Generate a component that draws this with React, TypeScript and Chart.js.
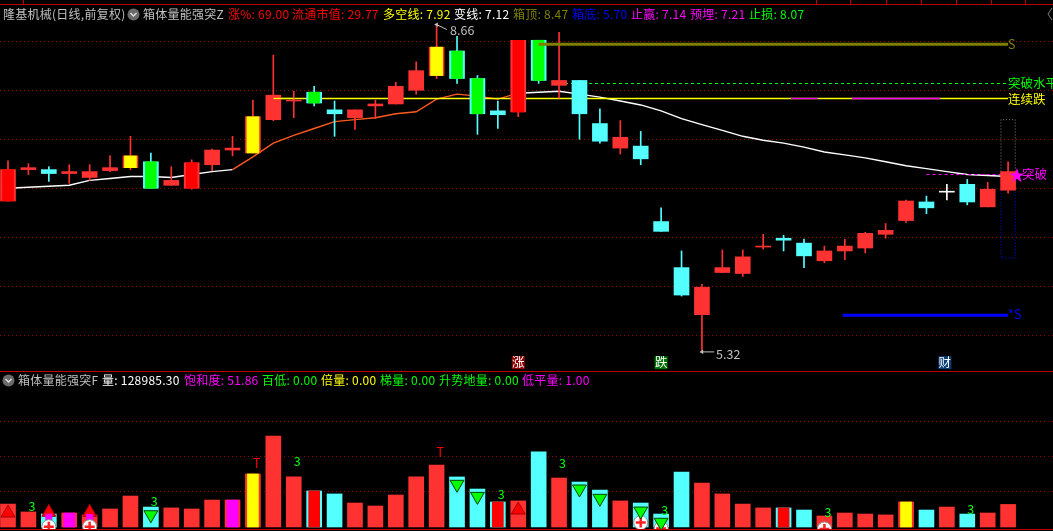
import { useEffect, useRef } from "react";
import Chart from "chart.js/auto";

// daily candles
const opens = [6.86,7.18,7.18,7.14,7.10,7.17,7.20,7.26,7.02,6.99,7.23,7.38,7.35,7.69,7.88,7.97,7.79,7.71,7.83,7.85,7.99,8.14,8.39,8.11,7.78,7.77,8.50,8.04,8.09,7.65,7.40,7.42,6.65,6.18,5.70,6.13,6.12,6.39,6.48,6.43,6.25,6.35,6.38,6.52,6.66,6.85,6.96,7.03,6.80,6.97];
const highs = [7.27,7.24,7.21,7.23,7.23,7.32,7.52,7.35,7.21,7.28,7.39,7.52,7.89,8.35,7.98,8.03,7.88,7.79,7.89,8.07,8.28,8.66,8.54,8.14,7.88,8.50,8.50,8.58,8.09,7.80,7.68,7.57,6.79,6.35,6.01,6.36,6.36,6.52,6.51,6.47,6.40,6.47,6.54,6.63,6.87,6.91,7.03,7.08,7.05,7.26];
const lows = [6.86,7.13,7.06,7.04,7.07,7.16,7.18,6.99,7.02,6.98,7.17,7.32,7.35,7.68,7.71,7.83,7.52,7.59,7.70,7.85,7.95,8.11,8.06,7.54,7.60,7.72,8.06,7.91,7.49,7.45,7.34,7.23,6.55,5.89,5.32,6.13,6.09,6.37,6.35,6.18,6.23,6.26,6.33,6.48,6.64,6.73,6.87,6.82,6.80,6.94];
const closes = [7.18,7.20,7.14,7.16,7.16,7.20,7.32,6.99,7.07,7.25,7.38,7.40,7.72,7.94,7.89,7.86,7.75,7.79,7.85,8.03,8.19,8.43,8.11,7.75,7.74,8.50,8.09,8.09,7.75,7.47,7.51,7.29,6.55,5.90,5.98,6.18,6.29,6.40,6.46,6.30,6.35,6.40,6.53,6.56,6.86,6.79,6.95,6.85,6.98,7.16];
const volumes = [131000,86000,74000,80000,69000,103000,177000,114000,109000,103000,154000,154000,303000,520000,286000,206000,189000,137000,120000,183000,286000,354000,286000,217000,143000,149000,429000,280000,257000,211000,149000,137000,74000,314000,251000,189000,131000,109000,109000,97000,63000,80000,74000,69000,143000,97000,114000,74000,80000,128985];
const maLine = [6.99,7.00,7.01,7.02,7.07,7.09,7.11,7.11,7.10,7.13,7.16,7.18,7.31,7.45,7.53,7.60,7.67,7.69,7.71,7.75,7.77,7.90,7.95,7.93,7.90,7.96,7.97,7.98,7.95,7.92,7.88,7.84,7.78,7.70,7.64,7.58,7.52,7.48,7.45,7.41,7.36,7.33,7.30,7.26,7.22,7.19,7.16,7.13,7.12,7.11];

// which candles get a coloured core
const yellowCore = [6, 12, 21];
const greenCore = [7, 15, 22, 23, 26];
const redCore = [0, 9, 25];
const whiteCandle = 46;
const orangeFrom = 11;
const orangeTo = 25;

const volMagentaCore = [3, 11];
const volYellowCore = [12, 44];
const volRedCore = [15, 24, 38];

// levels
const priceTicks = [8.49, 7.99, 7.49, 6.99, 6.49, 5.99, 5.49];
const volumeTicks = [200000, 400000, 600000];
const boxTop = 8.46;
const boxBottom = 5.695;
const breakoutLevel = 8.059;
const fallLevel = 7.906;
const entryLevel = 7.13;
const magentaRuns = [[38.36, 39.67], [41.35, 45.67]];
const frameTop = 7.69;
const frameBottom = 6.28;
const frameLeft = 48.65;
const frameRight = 49.35;

// markers on the volume panel: [candle, volume]
const greenDown = [[7, 70000], [22, 244000], [23, 175000], [28, 217000], [29, 164000], [31, 91000], [32, 27000]];
const redUp = [[0, 80000], [25, 97000], [2, 84000], [4, 84000]];
const magentaBlocks = [[2, 55000], [4, 55000]];
const plusCircles = [[2, 2000], [4, 2000], [31, 25000], [32, -8000], [40, -11000]];

const priceLabels = [
  { x: 21.66, y: 8.6, text: "8.66", color: "#c0c0c0" },
  { x: 34.69, y: 5.3, text: "5.32", color: "#c0c0c0" },
  { x: 49, y: 8.46, text: "S", color: "#808000" },
  { x: 49, y: 8.06, text: "突破水平", color: "#00ff00" },
  { x: 49, y: 7.9, text: "连续跌", color: "#ffff00" },
  { x: 49.05, y: 7.13, text: "★", color: "#ff00ff", size: 16 },
  { x: 49.68, y: 7.13, text: "突破", color: "#ff00ff" },
  { x: 49, y: 5.7, text: "*S", color: "#0000ff" },
  { x: 25, y: 5.21, text: "涨", color: "#ffffff", bg: "#8c0000" },
  { x: 32, y: 5.21, text: "跌", color: "#ffffff", bg: "#007000" },
  { x: 45.9, y: 5.21, text: "财", color: "#ffffff", bg: "#0c3c78" },
];
const volumeLabels = [
  { x: 1, y: 116000, text: "3", color: "#00ff00" },
  { x: 7, y: 145000, text: "3", color: "#00ff00" },
  { x: 14, y: 373000, text: "3", color: "#00ff00" },
  { x: 24, y: 187000, text: "3", color: "#00ff00" },
  { x: 27, y: 364000, text: "3", color: "#00ff00" },
  { x: 32, y: 93000, text: "3", color: "#00ff00" },
  { x: 40, y: 82000, text: "3", color: "#00ff00" },
  { x: 47, y: 100000, text: "3", color: "#00ff00" },
  { x: 12, y: 364000, text: "T", color: "#ff0000" },
  { x: 21, y: 427000, text: "T", color: "#ff0000" },
];

const topHeader = [
  { left: 3, text: "隆基机械(日线,前复权)", color: "#c0c0c0" },
  { left: 143, text: "箱体量能强突Z", color: "#c0c0c0" },
  { left: 228, text: "涨%: 69.00", color: "#ff0000" },
  { left: 292, text: "流通市值: 29.77", color: "#ff0000" },
  { left: 383, text: "多空线: 7.92", color: "#ffff00" },
  { left: 454, text: "变线: 7.12", color: "#ffffff" },
  { left: 513, text: "箱顶: 8.47", color: "#808000" },
  { left: 572, text: "箱底: 5.70", color: "#0000ff" },
  { left: 631, text: "止赢: 7.14", color: "#ff00ff" },
  { left: 690, text: "预埋: 7.21", color: "#ff00ff" },
  { left: 749, text: "止损: 8.07", color: "#00ff00" },
];
const lowHeader = [
  { left: 18, text: "箱体量能强突F", color: "#c0c0c0" },
  { left: 102, text: "量: 128985.30", color: "#ffffff" },
  { left: 184, text: "饱和度: 51.86", color: "#ff00ff" },
  { left: 262, text: "百低: 0.00", color: "#00ff00" },
  { left: 321, text: "倍量: 0.00", color: "#ffff00" },
  { left: 380, text: "梯量: 0.00", color: "#00ff00" },
  { left: 439, text: "升势地量: 0.00", color: "#00ff00" },
  { left: 522, text: "低平量: 1.00", color: "#ff00ff" },
];
const topTicks = [23, 816, 850, 886, 921, 956, 991, 1025];

const RED = "#ff3232";
const CYAN = "#54ffff";
const GRID = "#8c0000";
const FONT = '"Noto Sans CJK SC"';

const upOrDown = (i: number) => (closes[i] >= opens[i] ? RED : CYAN);
const candleColor = (i: number) => (i === whiteCandle ? "#ffffff" : upOrDown(i));
const volumeColor = (i: number) => (i === whiteCandle ? RED : upOrDown(i));

const labelPlugin = (labels: any[]) => ({
  id: "markLabels",
  afterDatasetsDraw(chart: any) {
    const { ctx, scales } = chart;
    ctx.save();
    ctx.textBaseline = "middle";
    labels.forEach((l) => {
      const x = scales.x.getPixelForValue(l.x);
      const y = scales.y.getPixelForValue(l.y);
      ctx.font = `${l.size ?? 12.5}px ${FONT}`;
      if (l.bg) {
        ctx.fillStyle = l.bg;
        ctx.fillRect(x - 6.5, y - 6.5, 13, 13);
        ctx.textAlign = "center";
      } else {
        ctx.textAlign = "left";
      }
      ctx.fillStyle = l.color;
      ctx.fillText(l.text, x, y);
    });
    ctx.restore();
  },
});

const flatLine = (from: number, to: number, y: number) => [{ x: from, y }, { x: to, y }];

const baseOptions = (yMin: number, yMax: number, ticks: number[]): any => ({
  responsive: false,
  animation: false,
  events: [],
  layout: { padding: 0, autoPadding: false },
  plugins: { legend: { display: false }, tooltip: { enabled: false } },
  scales: {
    x: { type: "linear", display: false, offset: false, min: -0.392, max: 51.2 },
    y: {
      min: yMin,
      max: yMax,
      ticks: { display: false },
      border: { display: false, dash: [1, 3] },
      grid: { color: GRID, drawTicks: false, lineWidth: 1 },
      afterBuildTicks: (axis: any) => {
        axis.ticks = ticks.map((value) => ({ value }));
      },
      afterFit: (axis: any) => {
        axis.width = 0;
      },
    },
  },
});

const priceDatasets = (): any[] => {
  const all = opens.map((_, i) => i);
  const core = (list: number[], color: string, width = 11) => ({
    type: "bar",
    data: list.map((i) => ({ x: i, y: [opens[i], closes[i]] })),
    backgroundColor: color,
    barThickness: width,
    grouped: false,
    order: 9,
  });
  const level = (data: any[], color: string, width: number, order: number, dash: number[] = []) => ({
    type: "line",
    data,
    borderColor: color,
    borderWidth: width,
    borderDash: dash,
    pointRadius: 0,
    order,
  });
  const leader = (data: any[]) => ({
    ...level(data, "#c0c0c0", 1, 3),
    pointRadius: [2.5, 0],
    pointStyle: "triangle",
    pointRotation: -90,
    pointBackgroundColor: "#c0c0c0",
    pointBorderWidth: 0,
  });
  return [
    level(flatLine(26, 49, boxTop), "#808000", 3, 4),
    level(flatLine(13, 14, fallLevel), "#ffff00", 1.3, 5),
    core(yellowCore, "#ffff00", 12),
    core(greenCore, "#00ff00"),
    core(redCore, "#ff0000"),
    {
      type: "bar",
      data: all.map((i) => ({ x: i, y: [opens[i], closes[i]] })),
      backgroundColor: all.map(candleColor),
      barThickness: 15,
      grouped: false,
      order: 10,
    },
    {
      type: "bar",
      data: all.map((i) => ({ x: i, y: [lows[i], highs[i]] })),
      backgroundColor: all.map(candleColor),
      barThickness: 1,
      grouped: false,
      order: 20,
    },
    level(flatLine(27, 49, breakoutLevel), "#00ff00", 1, 30, [3, 3]),
    level(flatLine(45, 49, entryLevel), "#ff00ff", 1, 30, [3, 3]),
    level(flatLine(40.9, 49, boxBottom), "#0000ff", 3, 30),
    level(
      [{ x: frameLeft, y: entryLevel }, { x: frameLeft, y: frameTop }, { x: frameRight, y: frameTop }, { x: frameRight, y: entryLevel }],
      "#808080", 1, 30, [1, 2]
    ),
    level(
      [{ x: frameLeft, y: opens[49] }, { x: frameLeft, y: frameBottom }, { x: frameRight, y: frameBottom }, { x: frameRight, y: opens[49] }],
      "#0000ff", 1, 30, [1, 2]
    ),
    leader([{ x: 21, y: highs[21] }, { x: 21.5, y: 8.61 }]),
    leader([{ x: 34, y: lows[34] }, { x: 34.6, y: lows[34] }]),
    ...magentaRuns.map(([a, b]) => level(flatLine(a, b, fallLevel), "#ff00ff", 1.3, 48)),
    level(flatLine(13, 49, fallLevel), "#ffff00", 1.3, 49),
    {
      type: "line",
      data: maLine.map((y, x) => ({ x, y })),
      borderColor: "#ffffff",
      borderWidth: 1.4,
      pointRadius: 0,
      segment: {
        borderColor: (ctx: any) =>
          ctx.p0DataIndex >= orangeFrom && ctx.p0DataIndex < orangeTo ? "#ff5a1e" : "#ffffff",
      },
      order: 50,
    },
  ];
};

const volumeDatasets = (): any[] => {
  const all = volumes.map((_, i) => i);
  const core = (list: number[], color: string) => ({
    type: "bar",
    data: list.map((i) => ({ x: i, y: volumes[i] })),
    backgroundColor: color,
    barThickness: 11,
    grouped: false,
    order: 9,
  });
  const points = (list: number[][], extra: any, order: number) => ({
    type: "scatter",
    data: list.map(([x, y]) => ({ x, y })),
    order,
    ...extra,
  });
  return [
    points(greenDown, { pointStyle: "triangle", rotation: 180, pointRadius: 8, backgroundColor: "#00ff00", borderColor: "#004000", borderWidth: 1 }, 1),
    points(plusCircles, { pointStyle: "cross", pointRadius: 5, borderColor: "#ff2020", borderWidth: 2.5 }, 2),
    points(plusCircles, { pointStyle: "circle", pointRadius: 7, backgroundColor: "#ffffff", borderColor: "#909090", borderWidth: 1 }, 3),
    points(magentaBlocks, { pointStyle: "rect", pointRadius: 5, backgroundColor: "#ff00ff", borderWidth: 0 }, 4),
    points(redUp, { pointStyle: "triangle", pointRadius: 8, backgroundColor: "#ff0000", borderColor: "#a00000", borderWidth: 1 }, 5),
    core(volMagentaCore, "#ff00ff"),
    core(volYellowCore, "#ffff00"),
    core(volRedCore, "#ff0000"),
    {
      type: "bar",
      data: all.map((i) => ({ x: i, y: volumes[i] })),
      backgroundColor: all.map(volumeColor),
      barThickness: 15,
      grouped: false,
      order: 10,
    },
  ];
};

const ChevronIcon = ({ left, top }: { left: number; top: number }) => (
  <svg width="13" height="13" style={{ position: "absolute", left, top }}>
    <circle cx="6.5" cy="6.5" r="6" fill="#6a6a6a" />
    <polyline points="3.5,5 6.5,8 9.5,5" fill="none" stroke="#e0e0e0" strokeWidth="1.4" />
  </svg>
);

const HeaderRow = ({ items, top }: { items: typeof topHeader; top: number }) => (
  <>
    {items.map((item) => (
      <span
        key={item.text}
        style={{
          position: "absolute",
          left: item.left,
          top,
          color: item.color,
          font: `12px/16px ${FONT}`,
          letterSpacing: "0.25px",
          whiteSpace: "nowrap",
        }}
      >
        {item.text}
      </span>
    ))}
  </>
);

export default function App() {
  const priceRef = useRef<HTMLCanvasElement | null>(null);
  const volumeRef = useRef<HTMLCanvasElement | null>(null);

  useEffect(() => {
    if (!priceRef.current || !volumeRef.current) return;

    const priceChart = new Chart(priceRef.current, {
      type: "bar",
      data: { datasets: priceDatasets() },
      options: baseOptions(5.125, 8.911, priceTicks),
      plugins: [labelPlugin(priceLabels)],
    } as any);

    const volumeChart = new Chart(volumeRef.current, {
      type: "bar",
      data: { datasets: volumeDatasets() },
      options: baseOptions(-11430, 891400, volumeTicks),
      plugins: [labelPlugin(volumeLabels)],
    } as any);

    return () => {
      priceChart.destroy();
      volumeChart.destroy();
    };
  }, []);

  return (
    <div style={{ position: "fixed", left: 0, top: 0, width: 1053, height: 531, background: "#000", overflow: "hidden" }}>
      <canvas ref={priceRef} width={1053} height={371} style={{ position: "absolute", left: 0, top: 0 }} />
      <canvas ref={volumeRef} width={1053} height={158} style={{ position: "absolute", left: 0, top: 371 }} />

      {/* frame lines */}
      <div style={{ position: "absolute", left: 0, top: 4, width: 1053, height: 1, background: "#c00000" }} />
      <div style={{ position: "absolute", left: 0, top: 371, width: 1053, height: 1, background: "#c00000" }} />
      <div style={{ position: "absolute", left: 0, top: 529, width: 1053, height: 1, background: "#c00000" }} />
      {topTicks.map((x) => (
        <div key={x} style={{ position: "absolute", left: x, top: 0, width: 1, height: 4, background: "#c00000" }} />
      ))}

      <HeaderRow items={topHeader} top={6} />
      <ChevronIcon left={127} top={8} />
      <HeaderRow items={lowHeader} top={372} />
      <ChevronIcon left={2} top={374} />
      <svg width="6" height="14" style={{ position: "absolute", left: 1047, top: 7 }}>
        <polyline points="5,1 1,7 5,13" fill="none" stroke="#808080" strokeWidth="1" />
      </svg>
    </div>
  );
}
